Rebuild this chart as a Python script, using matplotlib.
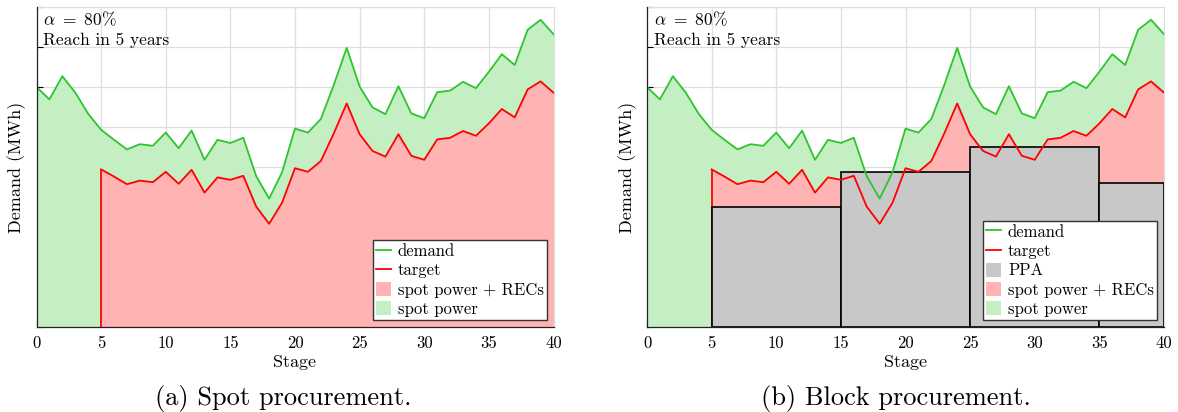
import matplotlib
matplotlib.use("Agg")
import matplotlib.pyplot as plt
from matplotlib.patches import Patch
from matplotlib.lines import Line2D

plt.rcParams["font.family"] = ["cmr10", "DejaVu Serif"]
plt.rcParams["mathtext.fontset"] = "cm"
plt.rcParams["axes.unicode_minus"] = False

# Demand per stage (MWh, arbitrary scale)
stages = list(range(41))
demand = [6.00, 5.69, 6.27, 5.86, 5.33, 4.93, 4.68, 4.44, 4.57, 4.53,
          4.86, 4.47, 4.91, 4.18, 4.68, 4.60, 4.73, 3.77, 3.21, 3.87,
          4.96, 4.86, 5.20, 6.05, 6.98, 6.01, 5.49, 5.32, 6.02, 5.34,
          5.22, 5.87, 5.91, 6.13, 5.97, 6.38, 6.82, 6.55, 7.43, 7.68, 7.32]

# REC target, active from stage 5 onwards
target_start = 5
target = [3.94, 3.76, 3.57, 3.66, 3.62, 3.88, 3.58, 3.93, 3.36, 3.74,
          3.68, 3.78, 3.01, 2.58, 3.11, 3.97, 3.88, 4.15, 4.84, 5.59,
          4.82, 4.40, 4.26, 4.82, 4.28, 4.18, 4.69, 4.73, 4.90, 4.78,
          5.09, 5.45, 5.24, 5.94, 6.14, 5.86]
target_stages = stages[target_start:]

# PPA blocks: start stage, end stage, contracted volume
ppa_start = [5, 15, 25, 35]
ppa_end = [15, 25, 35, 40]
ppa_level = [3.00, 3.88, 4.49, 3.60]

x_ticks = [0, 5, 10, 15, 20, 25, 30, 35, 40]
annotation = "$\\alpha\\ =\\ 80\\%$\nReach in 5 years"
captions = ["(a) Spot procurement.", "(b) Block procurement."]

GREEN = "#2ec42e"
RED = "#ff0000"
GREEN_FILL = "#c3efc3"
RED_FILL = "#ffb3b3"
GRAY_FILL = "#c8c8c8"
GRID = "#dedede"

fig = plt.figure(figsize=(11.78, 4.12), dpi=100)
ax_l = fig.add_axes([36.5 / 1178, 1 - 327 / 412, 517 / 1178, 320 / 412])
ax_r = fig.add_axes([647 / 1178, 1 - 327 / 412, 517 / 1178, 320 / 412])


def draw_panel(ax, with_ppa):
    ax.fill_between(stages, 0, demand, color=GREEN_FILL, lw=0, zorder=1)
    ax.fill_between(target_stages, 0, target, color=RED_FILL, lw=0, zorder=2)
    ax.vlines(target_stages[0], 0, target[0], color=RED, lw=1.3, zorder=3)
    if with_ppa:
        widths = [e - s for s, e in zip(ppa_start, ppa_end)]
        ax.bar(ppa_start, ppa_level, width=widths, align="edge",
               color=GRAY_FILL, edgecolor="black", lw=1.2, zorder=4)
    ax.plot(stages, demand, color=GREEN, lw=1.3, zorder=5)
    ax.plot(target_stages, target, color=RED, lw=1.3, zorder=5)

    ax.set_xlim(0, 40)
    ax.set_ylim(0, 8)
    ax.set_xticks(x_ticks)
    ax.set_yticks(range(0, 9))
    ax.set_yticklabels([])
    ax.tick_params(axis="both", direction="in", length=4, width=0.8,
                   labelsize=12, colors="black")
    ax.tick_params(axis="x", pad=6)
    ax.grid(True, color=GRID, lw=0.9, zorder=0)
    ax.set_axisbelow(True)
    for side in ("top", "right"):
        ax.spines[side].set_color(GRID)
    for side in ("left", "bottom"):
        ax.spines[side].set_color("#222222")
        ax.spines[side].set_linewidth(0.9)
        ax.spines[side].set_zorder(6)
    ax.set_xlabel("Stage", fontsize=13, labelpad=3)
    ax.set_ylabel("Demand (MWh)", fontsize=13, labelpad=4)
    ax.text(0.013, 0.99, annotation, transform=ax.transAxes, va="top",
            ha="left", fontsize=12.5, linespacing=1.3, zorder=7)

    handles = [Line2D([], [], color=GREEN, lw=1.3),
               Line2D([], [], color=RED, lw=1.3)]
    labels = ["demand", "target"]
    if with_ppa:
        handles.append(Patch(color=GRAY_FILL, lw=0))
        labels.append("PPA")
    handles += [Patch(color=RED_FILL, lw=0), Patch(color=GREEN_FILL, lw=0)]
    labels += ["spot power + RECs", "spot power"]
    leg = ax.legend(handles, labels, loc="lower right", fontsize=12,
                    frameon=True, fancybox=False, framealpha=1,
                    edgecolor="#333333", borderpad=0.2, labelspacing=0.22,
                    handlelength=0.9, handletextpad=0.4, borderaxespad=0.4,
                    handleheight=0.9)
    leg.get_frame().set_linewidth(1.0)
    leg.set_zorder(8)


draw_panel(ax_l, False)
draw_panel(ax_r, True)

fig.text(283 / 1178, 1 - 398 / 412, captions[0], ha="center", va="center",
         fontsize=19)
fig.text(896 / 1178, 1 - 398 / 412, captions[1], ha="center", va="center",
         fontsize=19)

fig.savefig("out.png", dpi=100)
